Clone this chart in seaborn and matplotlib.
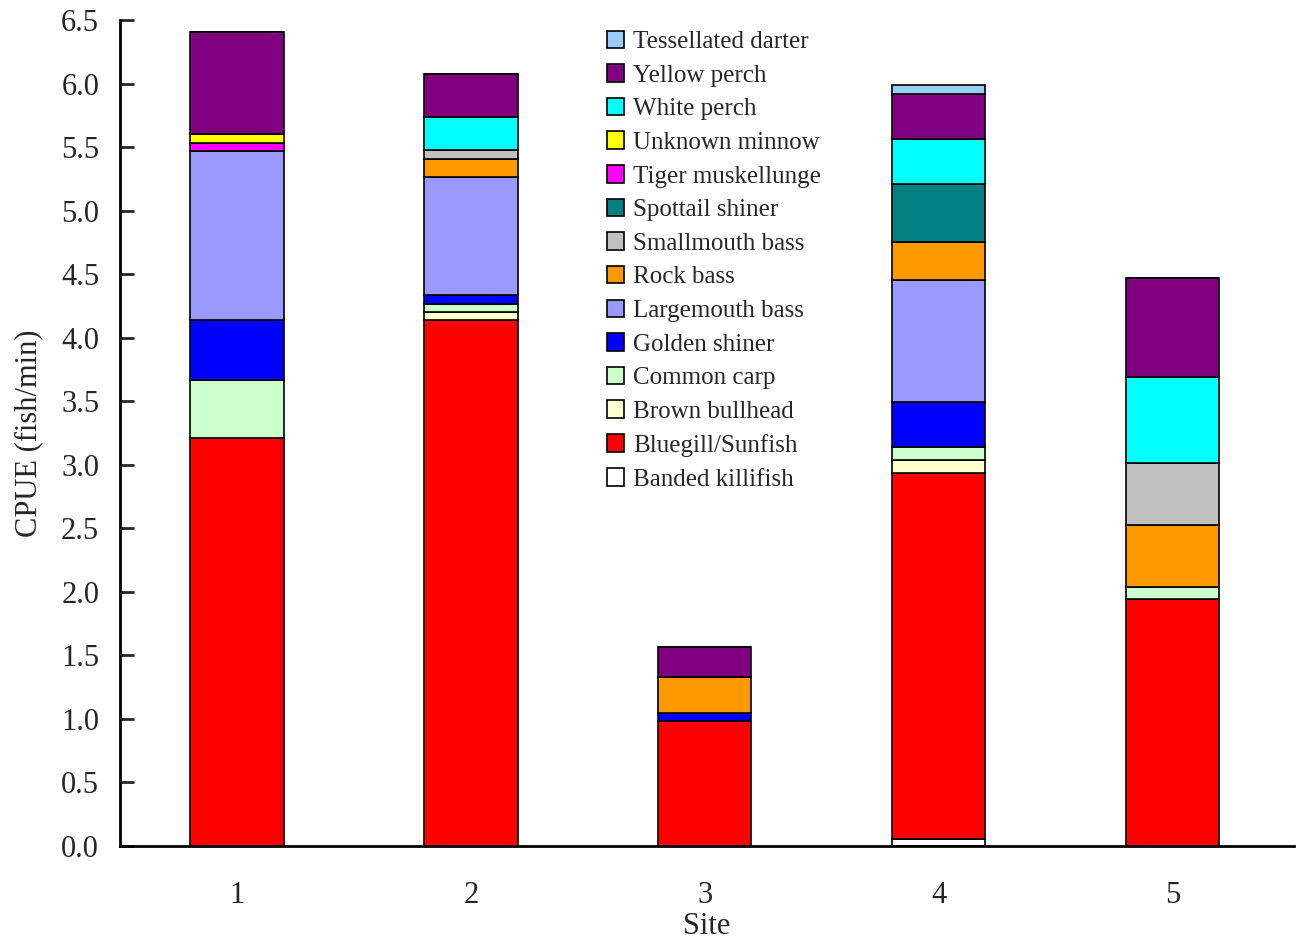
import matplotlib
matplotlib.use("Agg")
import matplotlib.pyplot as plt
import matplotlib.patches as mpatches
import seaborn as sns
import numpy as np
import pandas as pd

# Data (CPUE, fish/min); stacking order bottom -> top
sites = ['1', '2', '3', '4', '5']
species = ['Banded killifish', 'Bluegill/Sunfish', 'Brown bullhead', 'Common carp',
           'Golden shiner', 'Largemouth bass', 'Rock bass', 'Smallmouth bass',
           'Spottail shiner', 'Tiger muskellunge', 'Unknown minnow', 'White perch',
           'Yellow perch', 'Tessellated darter']
banded_killifish = [0.0, 0.0, 0.0, 0.055, 0.0]
bluegill_sunfish = [3.21, 4.137, 0.986, 2.88, 1.941]
brown_bullhead = [0.0, 0.065, 0.0, 0.102, 0.0]
common_carp = [0.46, 0.065, 0.0, 0.105, 0.10]
golden_shiner = [0.47, 0.071, 0.063, 0.349, 0.0]
largemouth_bass = [1.33, 0.929, 0.0, 0.963, 0.0]
rock_bass = [0.0, 0.139, 0.283, 0.299, 0.485]
smallmouth_bass = [0.0, 0.068, 0.0, 0.0, 0.488]
spottail_shiner = [0.0, 0.0, 0.0, 0.459, 0.0]
tiger_muskellunge = [0.063, 0.0, 0.0, 0.0, 0.0]
unknown_minnow = [0.07, 0.0, 0.0, 0.0, 0.0]
white_perch = [0.0, 0.26, 0.0, 0.354, 0.676]
yellow_perch = [0.80, 0.341, 0.236, 0.352, 0.78]
tessellated_darter = [0.0, 0.0, 0.0, 0.073, 0.0]

values = [banded_killifish, bluegill_sunfish, brown_bullhead, common_carp, golden_shiner,
          largemouth_bass, rock_bass, smallmouth_bass, spottail_shiner, tiger_muskellunge,
          unknown_minnow, white_perch, yellow_perch, tessellated_darter]
colors = ['#FFFFFF', '#FF0000', '#FFFFCC', '#CCFFCC', '#0000FF', '#9999FF', '#FF9900',
          '#C0C0C0', '#008080', '#FF00FF', '#FFFF00', '#00FFFF', '#800080', '#99CCFF']

sns.set_style("white")
plt.rcParams['font.family'] = ['Liberation Serif', 'DejaVu Serif']

fig = plt.figure(figsize=(12.96, 9.4), dpi=100)
ax = fig.add_axes([120 / 1296, 94 / 940, 1174 / 1296, 826 / 940])

bottom = np.zeros(len(sites))
for name, vals, col in zip(species, values, colors):
    df = pd.DataFrame({'Site': sites, 'CPUE': vals})
    sns.barplot(data=df, x='Site', y='CPUE', order=sites, bottom=bottom, color=col,
                saturation=1, width=0.4, edgecolor='black', linewidth=1.2, ax=ax)
    bottom = bottom + np.array(vals)

ax.set_xlim(-0.5, 4.52)
ax.set_ylim(0, 6.5)
ax.set_yticks(np.arange(0, 6.51, 0.5))
ax.set_yticklabels([f'{v:.1f}' for v in np.arange(0, 6.51, 0.5)])
ax.set_xticks(range(5))
ax.set_xticklabels(sites)
ax.set_xticks([0.5, 1.5, 2.5, 3.5], minor=True)
ax.tick_params(axis='x', which='major', length=0, labelsize=22, pad=25)
ax.tick_params(axis='x', which='minor', direction='in', length=10, width=2)
ax.tick_params(axis='y', direction='in', length=10, width=2, labelsize=22, pad=15, left=True)

for s in ['top', 'right']:
    ax.spines[s].set_visible(False)
for s in ['left', 'bottom']:
    ax.spines[s].set_linewidth(2)
    ax.spines[s].set_color('black')

ax.set_xlabel('Site', fontsize=22, labelpad=2)
ax.set_ylabel('CPUE (fish/min)', fontsize=22, labelpad=13)

handles = [mpatches.Patch(facecolor=c, edgecolor='black', linewidth=1.2, label=n)
           for n, c in zip(species[::-1], colors[::-1])]
ax.legend(handles=handles, loc='upper left', bbox_to_anchor=(594 / 1296, 1 - 18 / 940),
          bbox_transform=fig.transFigure, frameon=False, fontsize=18,
          handlelength=0.7, handleheight=0.7, handletextpad=0.35, labelspacing=0.445,
          borderpad=0)

fig.savefig('out.png', dpi=100)
